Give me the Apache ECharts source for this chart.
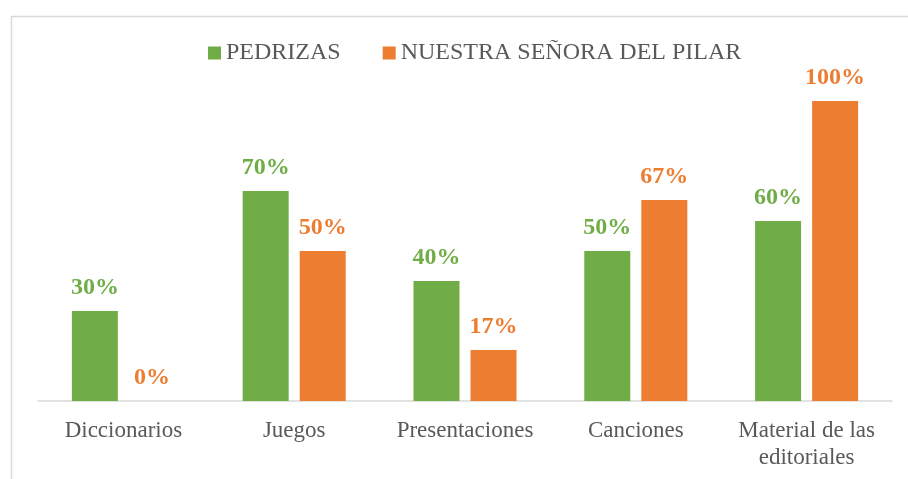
<!DOCTYPE html>
<html>
<head>
<meta charset="utf-8">
<script src="https://cdn.jsdelivr.net/npm/echarts@6/dist/echarts.min.js"></script>
<style>
  html, body { margin: 0; padding: 0; background: #fff; }
  #chart { width: 908px; height: 479px; }
</style>
</head>
<body>
<div id="chart"></div>
<script>
const categories = ["Diccionarios", "Juegos", "Presentaciones", "Canciones", "Material de las\neditoriales"];
const pedrizas = [30, 70, 40, 50, 60];
const pilar = [0, 50, 17, 67, 100];
const seriesNames = ["PEDRIZAS", "NUESTRA SEÑORA DEL PILAR"];

const FONT = "Liberation Serif";
const chart = echarts.init(document.getElementById("chart"));

function barLabel(color) {
  return {
    show: true,
    position: "top",
    distance: 11,
    formatter: "{c}%",
    fontFamily: FONT,
    fontSize: 24,
    fontWeight: "bold",
    color: color,
  };
}

chart.setOption({
  animation: false,
  graphic: [
    {
      type: "rect",
      left: 9,
      top: 14,
      shape: { width: 1000, height: 1000 },
      style: { fill: "none", stroke: "#d9d9d9", lineWidth: 1.5 },
      silent: true,
    },
  ],
  legend: {
    top: 36,
    left: 203,
    itemWidth: 13,
    itemHeight: 13,
    itemGap: 42,
    icon: "rect",
    textStyle: { fontFamily: FONT, fontSize: 24, color: "#595959" },
    data: seriesNames,
  },
  grid: {
    left: 38,
    right: 16,
    top: 101,
    bottom: 78,
  },
  xAxis: {
    type: "category",
    data: categories,
    axisLine: { lineStyle: { color: "#d9d9d9", width: 1.5 } },
    axisTick: { show: false },
    axisLabel: {
      fontFamily: FONT,
      fontSize: 23,
      color: "#595959",
      margin: 16,
      lineHeight: 27,
      interval: 0,
    },
  },
  yAxis: {
    type: "value",
    min: 0,
    max: 100,
    show: false,
  },
  series: [
    {
      name: seriesNames[0],
      type: "bar",
      data: pedrizas,
      barWidth: 46,
      barGap: "24%",
      itemStyle: { color: "#70AD47" },
      label: barLabel("#70AD47"),
    },
    {
      name: seriesNames[1],
      type: "bar",
      data: pilar,
      barWidth: 46,
      itemStyle: { color: "#ED7D31" },
      label: barLabel("#ED7D31"),
    },
  ],
});
</script>
</body>
</html>
